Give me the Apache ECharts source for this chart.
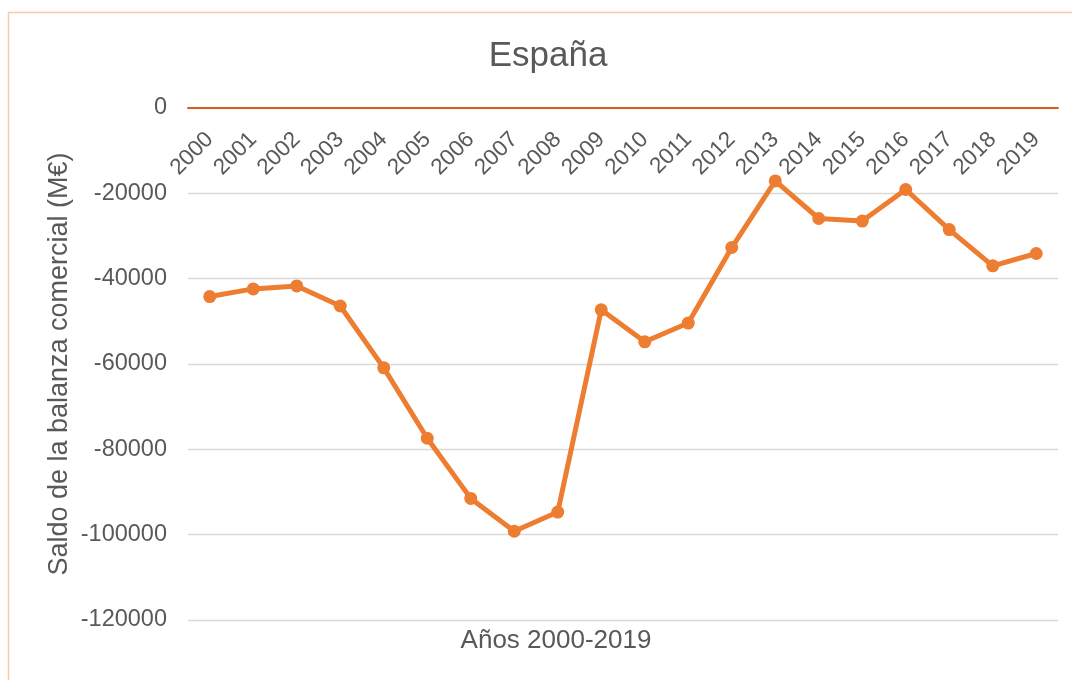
<!DOCTYPE html>
<html>
<head>
<meta charset="utf-8">
<title>España</title>
<script src="https://cdn.jsdelivr.net/npm/echarts@6/dist/echarts.min.js"></script>
<style>
  html, body { margin: 0; padding: 0; background: #fff; }
  #chart { width: 1072px; height: 680px; }
</style>
</head>
<body>
<div id="chart"></div>
<script>
// años del eje x
const years = ["2000", "2001", "2002", "2003", "2004", "2005", "2006", "2007", "2008", "2009",
  "2010", "2011", "2012", "2013", "2014", "2015", "2016", "2017", "2018", "2019"];
// saldo de la balanza comercial (M€)
const saldo = [-44200, -42400, -41700, -46400, -60900, -77400, -91500, -99200, -94700, -47300,
  -54800, -50400, -32700, -17100, -25900, -26500, -19100, -28500, -37000, -34100];
// marcas del eje y
const yMin = -120000;
const yMax = 0;
const yStep = 20000;

const font = "Liberation Sans, Arial, sans-serif";
const grey = "#595959";

const mChart = echarts.init(document.getElementById("chart"));

const options = {
  animation: false,
  title: {
    text: "España",
    left: 543,
    top: 34,
    textAlign: "center",
    textStyle: { fontFamily: font, fontSize: 35, fontWeight: "normal", color: grey },
  },
  // borde del área del gráfico y título del eje x
  graphic: [
    {
      type: "rect",
      shape: { x: 8.5, y: 12.5, width: 1100, height: 700 },
      style: { fill: null, stroke: "#F8CBAD", lineWidth: 1.5 },
      silent: true,
    },
    {
      type: "text",
      x: 556,
      y: 641,
      style: {
        text: "Años 2000-2019",
        fontFamily: font,
        fontSize: 26,
        fill: grey,
        textAlign: "center",
        textVerticalAlign: "middle",
      },
    },
  ],
  grid: {
    top: 108,
    bottom: 60,
    left: 188,
    right: 14,
    outerBoundsMode: "none",
  },
  xAxis: {
    type: "category",
    position: "top",
    data: years,
    axisLine: { lineStyle: { color: "#D2601A", width: 2 } },
    axisTick: { show: false },
    axisLabel: {
      inside: true,
      rotate: 45,
      margin: 28,
      verticalAlign: "middle",
      color: grey,
      fontFamily: font,
      fontSize: 22.5,
      interval: 0,
    },
  },
  yAxis: {
    type: "value",
    min: yMin,
    max: yMax,
    interval: yStep,
    name: "Saldo de la balanza comercial (M€)",
    nameLocation: "middle",
    nameGap: 115,
    nameMoveOverlap: false,
    nameTextStyle: { fontFamily: font, fontSize: 27, color: grey },
    axisLine: { show: false },
    axisTick: { show: false },
    axisLabel: {
      color: grey,
      fontFamily: font,
      fontSize: 23.5,
      margin: 21,
      formatter: (v) => String(v),
    },
    splitLine: { lineStyle: { color: "#D9D9D9", width: 1.3 } },
  },
  series: [
    {
      type: "line",
      data: saldo,
      symbol: "circle",
      symbolSize: 13,
      lineStyle: { color: "#ED7D31", width: 5 },
      itemStyle: { color: "#ED7D31" },
    },
  ],
};

mChart.setOption(options);
</script>
</body>
</html>
